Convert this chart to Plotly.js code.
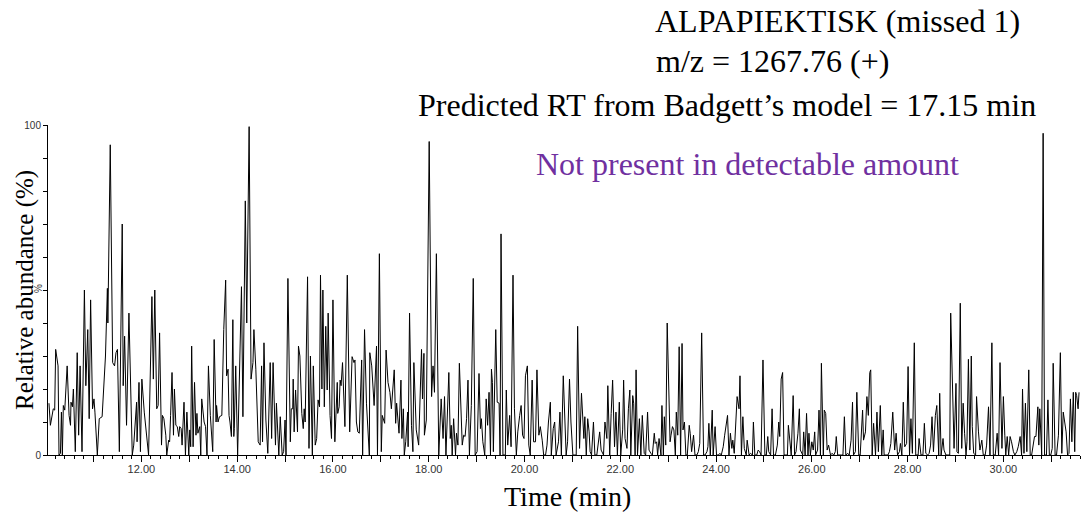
<!DOCTYPE html>
<html>
<head>
<meta charset="utf-8">
<script src="https://cdn.plot.ly/plotly-3.0.1.min.js"></script>
<style>
html,body{margin:0;padding:0;background:#fff;}
#chart{width:1081px;height:516px;}
</style>
</head>
<body>
<div id="chart"></div>
<script>
// Time (min) and relative abundance (%), segment by segment
const timeA = [10.07,10.10,10.16,10.19,10.21,10.26,10.28,10.31,10.33,10.35,10.37,10.40,10.45,10.49,10.52,10.53,10.56,10.58,10.62,10.66,10.69,10.72,10.76,10.81,10.84,10.88,10.91,10.94,10.98,11.01,11.03,11.08,11.12,11.18,11.25,11.29,11.30,11.35,11.40,11.44,11.47,11.50,11.54,11.60,11.62,11.65,11.69,11.74,11.81,11.84,11.90,11.91,11.95,11.98,12.01,12.06];
const abundA = [15.7,9,14,13.6,32,27,0,0.5,13,0,15,13.6,27,12,9,16,14.6,20,1,31,6,27,1,50,21,38,11,47,14,17,13,0,11,11.6,30,50.5,40,94,28,27,31,32,1,70,21,36,9,43,0,3,16,4,22,1,23,13];

const timeB = [12.15,12.22,12.25,12.28,12.32,12.35,12.38,12.42,12.44,12.47,12.51,12.53,12.57,12.59,12.61,12.64,12.67,12.69,12.72,12.75,12.78,12.80,12.83,12.85,12.89,12.92,12.95,12.99,13.01,13.03,13.05,13.08,13.11,13.14,13.16,13.18,13.22,13.24,13.26,13.31,13.34,13.37,13.40,13.44,13.49,13.52,13.56,13.57,13.60,13.63,13.68,13.72,13.76,13.78,13.81,13.83,13.85,13.88,13.91,13.93,13.94,13.97,14.01,14.09,14.12,14.17,14.20,14.25];
const abundB = [0,48,23,50,14,15,37,3,12,11,6,0,4.5,4,12,25,6,20,9,8.6,5.6,8.6,8,3,16,0,13,0,7.6,2.5,33,2.5,22,6,12.6,6.6,8.6,0,17,10,8.6,0,27,12,1,35,10,15,10,11.6,12,38,53,24,26,12,10,5.6,41,5.6,8,27,0,51,11.6,77,40,99.5];

const timeC = [14.29,14.33,14.35,14.39,14.44,14.48,14.51,14.53,14.56,14.60,14.64,14.69,14.72,14.75,14.80,14.82,14.84,14.87,14.90,14.94,14.97,15.00,15.02,15.06,15.11,15.13,15.16,15.17,15.19,15.22,15.26,15.28,15.31,15.35,15.38,15.40,15.42,15.47,15.50,15.53,15.57,15.59,15.63,15.66,15.69,15.72,15.74,15.77,15.79,15.82,15.85,15.88,15.90,15.94,15.97,16.00,16.04,16.09,16.10,16.13,16.15,16.17,16.20,16.25,16.30,16.35,16.40,16.44];
const abundC = [23,28,38,26,4,3,27,4,34,10.6,0.5,28,5,28,3,15.7,9.6,0,11.6,0,1,10.6,0,53.5,4,14,14,23,7,19.7,7,33,30,12.6,8,14,10,54,2,30,0,27,3,5,16.7,14.6,54.5,20,50,14.6,39,19.7,43,12,5,47,4,22,12.6,14.6,22.7,21,28,8.6,54.5,7,29.8,28];

const timeD = [16.46,16.49,16.52,16.55,16.60,16.62,16.66,16.70,16.76,16.77,16.81,16.86,16.91,16.93,16.97,17.01,17.03,17.08,17.11,17.15,17.19,17.22,17.28,17.31,17.33,17.38,17.42,17.44,17.47,17.49,17.52,17.56,17.57,17.60,17.64,17.67,17.69,17.74,17.79,17.83,17.85,17.87,17.90,17.91,17.95,18.01,18.06,18.09,18.12,18.16,18.21,18.26,18.30,18.33,18.36,18.42,18.45,18.47,18.49,18.52,18.56,18.58,18.61,18.64];
const abundD = [28.8,10,7,6.6,28.8,0,38,15.7,0,31,27,15,33,0,61,1,12,9.6,31.8,22,19,14,25.8,9.6,15.7,6.6,22.7,5,14,0,4,13,2.5,43,9,1,28,7.6,3,25.8,32,17,30.8,6,10.6,95,17.7,27,19,61,0,17,5,17.7,0,25,5,9,0,11,0,6.6,3,27.8];

const timeE = [18.70,18.73,18.76,18.79,18.82,18.85,18.89,18.93,18.97,19.01,19.05,19.08,19.10,19.13,19.17,19.20,19.23,19.26,19.29,19.31,19.33,19.35,19.40,19.43,19.47,19.49,19.51,19.55,19.60,19.62,19.65,19.69,19.72,19.76,19.79,19.83,19.86,19.90,19.93,19.96,19.99,20.02,20.06,20.09,20.12,20.16,20.19,20.23,20.26,20.30,20.33,20.37,20.40,20.44,20.47,20.50,20.54,20.56,20.60,20.63,20.66,20.71,20.74,20.77,20.81];
const abundE = [3,6,5.6,11,22.7,0,15,53.5,0,1,24.7,8,11,4,0,17,9,19,0,26,22,1,38,16,15.7,0,67,0,0,19.7,3,12,2.5,54.5,14,0,7,12,15,6,5,24,27,3,0,22.7,4,4,25.8,6,8.6,4.5,0,0,3,10,16,0,8,10,0,4,13,0,24];

const timeF = [20.87,20.90,20.94,20.97,21.01,21.08,21.11,21.15,21.19,21.24,21.26,21.29,21.32,21.35,21.37,21.40,21.44,21.47,21.51,21.54,21.57,21.60,21.65,21.68,21.72,21.74,21.78,21.81,21.84,21.88,21.91,21.94,21.98,22.01,22.05,22.07,22.10,22.14,22.17,22.20,22.22,22.26,22.28,22.31,22.33,22.36,22.40,22.43,22.46,22.50,22.53,22.57,22.60,22.64,22.67,22.71,22.73,22.76,22.78,22.81,22.85,22.87,22.90,22.92,22.95,22.98];
const abundF = [0,4,23,10,0,0,39,2,18.7,5,11.6,0,11,7,1,0,10,0,0,3.5,7,1.5,0,10,5,21,0,12.6,22.7,2.5,13,0,16,0,7.6,22.7,5,2,14,19.7,0,18,15.7,0,25.8,0,11,0,12,0.5,0,13,1.5,0.5,0,6.6,3.5,4,0,5,0,15,0,11.6,3,40];

const timeG = [23.04,23.06,23.09,23.12,23.15,23.17,23.20,23.23,23.26,23.29,23.31,23.34,23.37,23.40,23.44,23.46,23.49,23.53,23.56,23.60,23.63,23.66,23.70,23.74,23.77,23.81,23.83,23.85,23.88,23.92,23.94,23.98,24.01,24.05,24.08,24.11,24.15,24.18,24.22,24.24,24.27,24.30,24.33,24.35,24.38,24.41,24.44,24.48,24.50,24.53,24.56,24.59,24.63,24.65,24.69,24.72,24.76,24.78,24.81,24.85,24.88,24.91,24.94,24.98,25.02,25.05,25.08,25.10,25.14,25.17,25.20];
const abundG = [4,6,8.6,7.6,0,13,6,32.8,0,33.8,7.6,10,0,0,9,6.6,1,6,0,0,1,3.5,37,0,0,1,2.5,9.6,0,13.6,0,8.6,0,0,0.5,0,2.5,6,9.6,12,0,6.6,2,4.5,0.5,12,17.7,14,24,0,11.6,2,0,4.5,0,0.5,0,10,0,0,1.5,1,0,28.8,0,0,5.6,1,0,14,0];

const timeH = [25.24,25.28,25.31,25.33,25.36,25.39,25.42,25.49,25.51,25.54,25.57,25.61,25.64,25.67,25.71,25.74,25.76,25.81,25.83,25.86,25.89,25.92,25.94,25.97,26.00,26.03,26.06,26.08,26.12,26.15,26.18,26.20,26.24,26.26,26.29,26.32,26.35,26.39,26.42,26.46,26.49,26.51,26.54,26.62,26.65,26.68,26.71,26.75,26.78,26.82,26.85,26.87,26.91,26.94,26.98,27.01,27.06,27.08,27.12,27.15,27.18,27.21,27.23,27.26,27.29,27.33,27.36,27.39];
const abundH = [0,3,10,5.6,23,25,0,0,9,5,0,18,0,1,6.6,14,1.5,0,7,0,12.6,0,6.6,0,4,1.5,7,0,1.5,13.6,0,27.8,0,13.6,12.6,1.5,3,0,0.5,0,1,5.6,0,0,0,11.6,0,0.5,0,4.5,16,0,1,19,0,0,13.6,4.5,7,17.7,12,25,25.8,0,9.6,0,13,1];

const timeI = [27.43,27.46,27.49,27.51,27.59,27.62,27.65,27.69,27.73,27.76,27.79,27.83,27.85,27.88,27.91,27.94,27.98,28.01,28.04,28.07,28.10,28.14,28.17,28.22,28.24,28.28,28.32,28.35,28.38,28.42,28.45,28.48,28.51,28.54,28.58,28.61,28.65,28.67,28.70,28.74,28.76,28.80,28.88,28.90,28.94,28.97,29.01,29.03,29.06,29.10,29.13,29.16,29.19,29.22,29.24,29.27,29.30,29.33,29.35,29.38,29.42,29.44,29.48,29.51,29.55,29.58];
const abundI = [15,0,7.6,0,0,1,3.5,13,1.5,6.6,0,1,3.5,0,16,2.5,3.5,26.8,0,11,0.5,34,0,0,5,0,0,9.6,0.5,0,0.5,3,11.6,1,12,15,0,18.7,0,5,1.5,0,0,43,13,2,21.7,1,0.5,46,2,15.7,6.6,0,4,29,1.5,30,8.6,0.5,0,17.7,7,1.5,4.5,0];

const timeJ = [29.62,29.65,29.69,29.72,29.76,29.79,29.83,29.87,29.90,29.93,29.97,30.00,30.03,30.05,30.08,30.11,30.14,30.17,30.21,30.24,30.28,30.31,30.35,30.38,30.40,30.43,30.46,30.49,30.53,30.56,30.59,30.62,30.65,30.68,30.72,30.74,30.76,30.80,30.83,30.86,30.90,30.93,30.96,30.99,31.02,31.04,31.08,31.11,31.15,31.19,31.22,31.25,31.28,31.31,31.34,31.37,31.40,31.43,31.46,31.49,31.51,31.53,31.56,31.58];
const abundJ = [0,3,14.6,0,34,0,0,6.6,0,28,2,17.7,6,0,5.6,0,5.6,4,1,0,1,2.5,5.6,0,20,0.5,15.7,1,25.8,0,0,2.5,5.6,5.6,14.6,3,14,0,97.5,0,0,16.7,0,0,2,27.8,0,0,6,31,0.5,13,9,7,0,0.5,17,4,19,1,19,18,14,19];

// Axis ticks and labels
const xTickVals = [10,11,12,13,14,15,16,17,18,19,20,21,22,23,24,25,26,27,28,29,30,31];
const xTickText = ["","","12.00","","14.00","","16.00","","18.00","","20.00","","22.00","","24.00","","26.00","","28.00","","30.00",""];
const yTickVals = [0,10,20,30,40,50,60,70,80,90,100];
const yTickText = ["0","","","","","","","","","","100"];

// Texts
const titleLines = ["ALPAPIEKTISK (missed 1)", "m/z = 1267.76 (+)", "Predicted RT from Badgett\u2019s model = 17.15 min"];
const noteText = "Not present in detectable amount";
const xTitle = "Time (min)";
const yTitle = "Relative abundance (%)";
const yUnit = "%";

const timeAll = [].concat(timeA,timeB,timeC,timeD,timeE,timeF,timeG,timeH,timeI,timeJ);
const abundAll = [].concat(abundA,abundB,abundC,abundD,abundE,abundF,abundG,abundH,abundI,abundJ);

const serif = "Liberation Serif, Times New Roman, serif";
const sans = "Liberation Sans, Arial, sans-serif";

const trace = {
  x: timeAll, y: abundAll, type: 'scatter', mode: 'lines',
  line: {color: '#000', width: 1}, hoverinfo: 'skip', showlegend: false
};

const layout = {
  width: 1081, height: 516,
  margin: {l: 48, r: 1, t: 125, b: 61},
  paper_bgcolor: '#fff', plot_bgcolor: '#fff',
  showlegend: false,
  xaxis: {
    range: [10.05, 31.6], showgrid: false, zeroline: false,
    showline: true, linecolor: '#000', linewidth: 1,
    ticks: 'outside', ticklen: 6, tickwidth: 1, tickcolor: '#000',
    tickmode: 'array', tickvals: xTickVals, ticktext: xTickText,
    ticklabelstandoff: -2,
    tickfont: {family: sans, size: 11, color: '#333'},
    minor: {tickmode: 'linear', tick0: 10, dtick: 0.2, ticks: 'outside', ticklen: 3, tickwidth: 1, tickcolor: '#000', showgrid: false}
  },
  yaxis: {
    range: [0, 100], showgrid: false, zeroline: false,
    showline: true, linecolor: '#000', linewidth: 1,
    ticks: 'outside', ticklen: 4, tickwidth: 1, tickcolor: '#000',
    tickmode: 'array', tickvals: yTickVals, ticktext: yTickText,
    tickfont: {family: sans, size: 10, color: '#333'}
  },
  annotations: [
    {text: titleLines[0], xref: 'paper', yref: 'paper', x: 0.7655, y: 1.315, xanchor: 'center', yanchor: 'middle', showarrow: false, font: {family: serif, size: 32, color: '#000'}},
    {text: titleLines[1], xref: 'paper', yref: 'paper', x: 0.7025, y: 1.194, xanchor: 'center', yanchor: 'middle', showarrow: false, font: {family: serif, size: 32, color: '#000'}},
    {text: titleLines[2], xref: 'paper', yref: 'paper', x: 0.6584, y: 1.0606, xanchor: 'center', yanchor: 'middle', showarrow: false, font: {family: serif, size: 32, color: '#000'}},
    {text: noteText, xref: 'paper', yref: 'paper', x: 0.678, y: 0.882, xanchor: 'center', yanchor: 'middle', showarrow: false, font: {family: serif, size: 32, color: '#7030A0'}},
    {text: xTitle, xref: 'paper', yref: 'paper', x: 0.503, y: -0.127, xanchor: 'center', yanchor: 'middle', showarrow: false, font: {family: serif, size: 28, color: '#000'}},
    {text: yTitle, xref: 'paper', yref: 'paper', x: -0.0223, y: 0.5, xanchor: 'center', yanchor: 'middle', textangle: -90, showarrow: false, font: {family: serif, size: 25, color: '#000'}},
    {text: yUnit, xref: 'paper', yref: 'paper', x: -0.0097, y: 0.506, xanchor: 'center', yanchor: 'middle', textangle: -90, showarrow: false, font: {family: sans, size: 10, color: '#333'}}
  ]
};

Plotly.newPlot('chart', [trace], layout, {staticPlot: true, displayModeBar: false});
</script>
</body>
</html>
